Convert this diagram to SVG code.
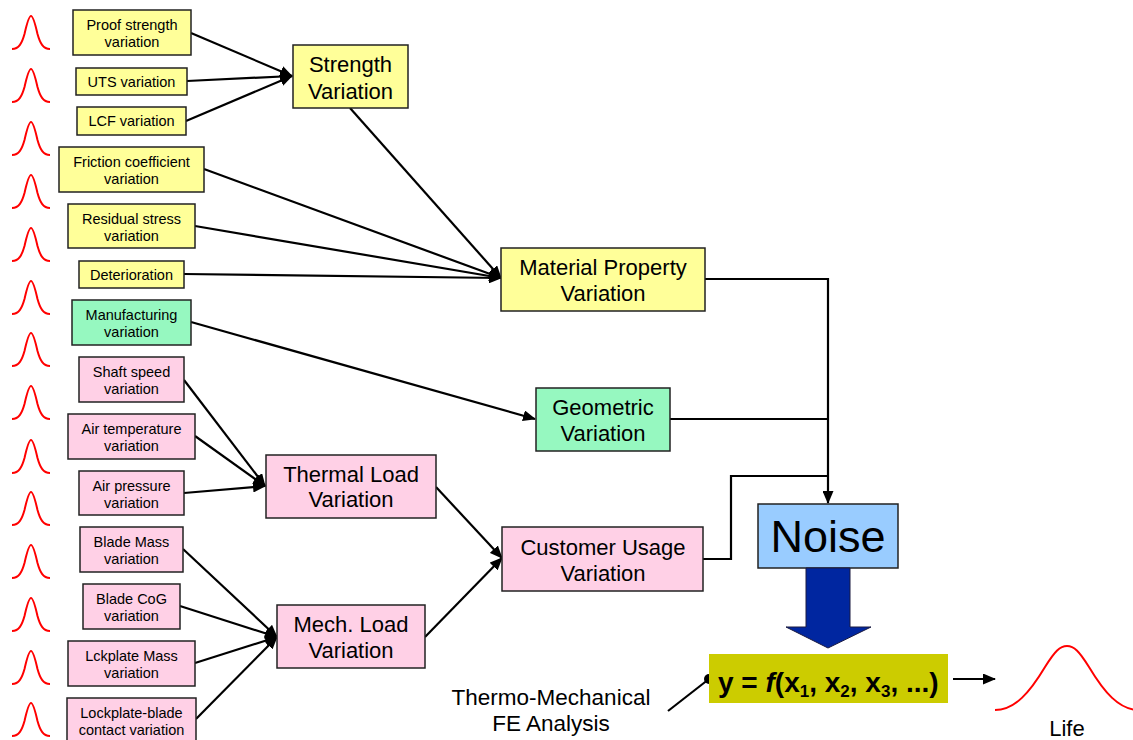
<svg xmlns="http://www.w3.org/2000/svg" xmlns:xlink="http://www.w3.org/1999/xlink" width="1133" height="740" viewBox="0 0 1133 740">
<style>
  text { font-family: "Liberation Sans", Arial, sans-serif; fill: #000; }
  .sm { font-size: 14.5px; text-anchor: middle; }
  .md { font-size: 22px; text-anchor: middle; }
  .box { stroke: #222; stroke-width: 1.5; }
  .y { fill: #ffff99; }
  .p { fill: #ffd0e6; }
  .g { fill: #96f8c0; }
  .bell { fill: none; stroke: #ff0000; stroke-width: 2; }
  .c { fill: none; stroke: #000; stroke-width: 2.2; }
</style>
<defs>
  <marker id="ah" markerWidth="13" markerHeight="11" refX="12" refY="5.5" orient="auto" markerUnits="userSpaceOnUse">
    <path d="M0,0 L13,5.5 L0,11 z" fill="#000"/>
  </marker>
  <path id="b" class="bell" d="M0,33 C7,33 10,27 12.5,18 C15,7 17,0 19,0 C21,0 23,7 25.5,18 C28,27 31,33 38,33"/>
</defs>
<rect width="1133" height="740" fill="#fff"/>

<g id="bells">
  <use xlink:href="#b" x="12" y="16"/>
  <use xlink:href="#b" x="12" y="69"/>
  <use xlink:href="#b" x="12" y="122"/>
  <use xlink:href="#b" x="12" y="175"/>
  <use xlink:href="#b" x="12" y="228"/>
  <use xlink:href="#b" x="12" y="281"/>
  <use xlink:href="#b" x="12" y="333"/>
  <use xlink:href="#b" x="12" y="386"/>
  <use xlink:href="#b" x="12" y="440"/>
  <use xlink:href="#b" x="12" y="492"/>
  <use xlink:href="#b" x="12" y="545"/>
  <use xlink:href="#b" x="12" y="598"/>
  <use xlink:href="#b" x="12" y="651"/>
  <use xlink:href="#b" x="12" y="703"/>
</g>

<g id="connectors">
  <line class="c" x1="191" y1="33" x2="292" y2="76" marker-end="url(#ah)"/>
  <line class="c" x1="187" y1="81" x2="292" y2="76" marker-end="url(#ah)"/>
  <line class="c" x1="186" y1="121" x2="292" y2="76" marker-end="url(#ah)"/>
  <line class="c" x1="350" y1="108" x2="501" y2="278" marker-end="url(#ah)"/>
  <line class="c" x1="204" y1="169" x2="501" y2="278" marker-end="url(#ah)"/>
  <line class="c" x1="195" y1="226" x2="501" y2="278" marker-end="url(#ah)"/>
  <line class="c" x1="184" y1="274" x2="501" y2="278" marker-end="url(#ah)"/>
  <line class="c" x1="191" y1="322" x2="535" y2="419" marker-end="url(#ah)"/>
  <line class="c" x1="184" y1="380" x2="265" y2="486" marker-end="url(#ah)"/>
  <line class="c" x1="195" y1="436" x2="265" y2="486" marker-end="url(#ah)"/>
  <line class="c" x1="184" y1="493" x2="265" y2="486" marker-end="url(#ah)"/>
  <line class="c" x1="183" y1="549" x2="277" y2="637" marker-end="url(#ah)"/>
  <line class="c" x1="180" y1="606" x2="277" y2="637" marker-end="url(#ah)"/>
  <line class="c" x1="195" y1="663" x2="277" y2="637" marker-end="url(#ah)"/>
  <line class="c" x1="196" y1="719" x2="277" y2="637" marker-end="url(#ah)"/>
  <line class="c" x1="436" y1="487" x2="502" y2="558" marker-end="url(#ah)"/>
  <line class="c" x1="425" y1="637" x2="502" y2="558" marker-end="url(#ah)"/>
  <polyline class="c" points="705,279 828,279 828,503" marker-end="url(#ah)"/>
  <line class="c" x1="670" y1="419" x2="828" y2="419"/>
  <polyline class="c" points="703,559 731,559 731,476 828,476"/>
  <line class="c" x1="668" y1="711" x2="709" y2="679"/>
  <circle cx="709" cy="679" r="5" fill="#000"/>
  <line class="c" x1="953" y1="679" x2="995" y2="679" marker-end="url(#ah)"/>
</g>

<g id="n-proof"><rect class="box y" x="73" y="10" width="118" height="45"/><text class="sm" x="132" y="30">Proof strength</text><text class="sm" x="132" y="47">variation</text></g>
<g id="n-uts"><rect class="box y" x="76" y="68" width="111" height="27"/><text class="sm" x="131.5" y="87">UTS variation</text></g>
<g id="n-lcf"><rect class="box y" x="77" y="107" width="109" height="28"/><text class="sm" x="131.5" y="126">LCF variation</text></g>
<g id="n-friction"><rect class="box y" x="59" y="147" width="145" height="45"/><text class="sm" x="131.5" y="167">Friction coefficient</text><text class="sm" x="131.5" y="184">variation</text></g>
<g id="n-residual"><rect class="box y" x="68" y="204" width="127" height="44"/><text class="sm" x="131.5" y="224">Residual stress</text><text class="sm" x="131.5" y="241">variation</text></g>
<g id="n-deterioration"><rect class="box y" x="79" y="261" width="105" height="27"/><text class="sm" x="131.5" y="280">Deterioration</text></g>
<g id="n-manufacturing"><rect class="box g" x="72" y="300" width="119" height="45"/><text class="sm" x="131.5" y="320">Manufacturing</text><text class="sm" x="131.5" y="337">variation</text></g>
<g id="n-shaft"><rect class="box p" x="79" y="357" width="105" height="45"/><text class="sm" x="131.5" y="377">Shaft speed</text><text class="sm" x="131.5" y="394">variation</text></g>
<g id="n-airtemp"><rect class="box p" x="68" y="414" width="127" height="45"/><text class="sm" x="131.5" y="434">Air temperature</text><text class="sm" x="131.5" y="451">variation</text></g>
<g id="n-airpress"><rect class="box p" x="79" y="471" width="105" height="44"/><text class="sm" x="131.5" y="491">Air pressure</text><text class="sm" x="131.5" y="508">variation</text></g>
<g id="n-blademass"><rect class="box p" x="80" y="527" width="103" height="45"/><text class="sm" x="131.5" y="547">Blade Mass</text><text class="sm" x="131.5" y="564">variation</text></g>
<g id="n-bladecog"><rect class="box p" x="83" y="584" width="97" height="45"/><text class="sm" x="131.5" y="604">Blade CoG</text><text class="sm" x="131.5" y="621">variation</text></g>
<g id="n-lckmass"><rect class="box p" x="68" y="641" width="127" height="45"/><text class="sm" x="131.5" y="661">Lckplate Mass</text><text class="sm" x="131.5" y="678">variation</text></g>
<g id="n-lockblade"><rect class="box p" x="67" y="698" width="129" height="46"/><text class="sm" x="131.5" y="718">Lockplate-blade</text><text class="sm" x="131.5" y="735">contact variation</text></g>

<g id="n-strength"><rect class="box y" x="293" y="45" width="115" height="63"/><text class="md" x="350.5" y="72">Strength</text><text class="md" x="350.5" y="99">Variation</text></g>
<g id="n-material"><rect class="box y" x="501" y="248" width="204" height="63"/><text class="md" x="603" y="275">Material Property</text><text class="md" x="603" y="301">Variation</text></g>
<g id="n-geometric"><rect class="box g" x="536" y="388" width="134" height="63"/><text class="md" x="603" y="415">Geometric</text><text class="md" x="603" y="441">Variation</text></g>
<g id="n-thermal"><rect class="box p" x="266" y="455" width="170" height="63"/><text class="md" x="351" y="482">Thermal Load</text><text class="md" x="351" y="507">Variation</text></g>
<g id="n-mech"><rect class="box p" x="277" y="605" width="148" height="63"/><text class="md" x="351" y="632">Mech. Load</text><text class="md" x="351" y="658">Variation</text></g>
<g id="n-customer"><rect class="box p" x="502" y="527" width="201" height="64"/><text class="md" x="603" y="555">Customer Usage</text><text class="md" x="603" y="581">Variation</text></g>

<g id="n-noise"><rect class="box" x="758" y="504" width="140" height="64" fill="#99ccff"/><text x="828" y="552" font-size="45" text-anchor="middle">Noise</text></g>
<g id="bigarrow"><path d="M806,568 L850,568 L850,627 L871,627 L828,648 L786,627 L806,627 z" fill="#0026a0" stroke="#1a1a40" stroke-width="1"/></g>

<g id="n-formula"><rect x="709" y="654" width="239" height="49" fill="#cccc00"/>
  <text x="718" y="692" font-size="28" font-weight="bold">y = <tspan font-style="italic">f</tspan>(x<tspan font-size="17" dy="5">1</tspan><tspan dy="-5">, x</tspan><tspan font-size="17" dy="5">2</tspan><tspan dy="-5">, x</tspan><tspan font-size="17" dy="5">3</tspan><tspan dy="-5">, ...)</tspan></text>
</g>

<g id="n-thermo"><text x="551" y="705" font-size="22.5" text-anchor="middle">Thermo-Mechanical</text><text x="551" y="731" font-size="22.5" text-anchor="middle">FE Analysis</text></g>

<g id="n-life"><path class="bell" d="M995,710 C1015,710 1030,692 1045,667 C1055,651 1060,646 1067,646 C1074,646 1079,651 1089,667 C1104,692 1119,710 1139,710"/><text x="1067" y="736" font-size="22" text-anchor="middle">Life</text></g>
</svg>
